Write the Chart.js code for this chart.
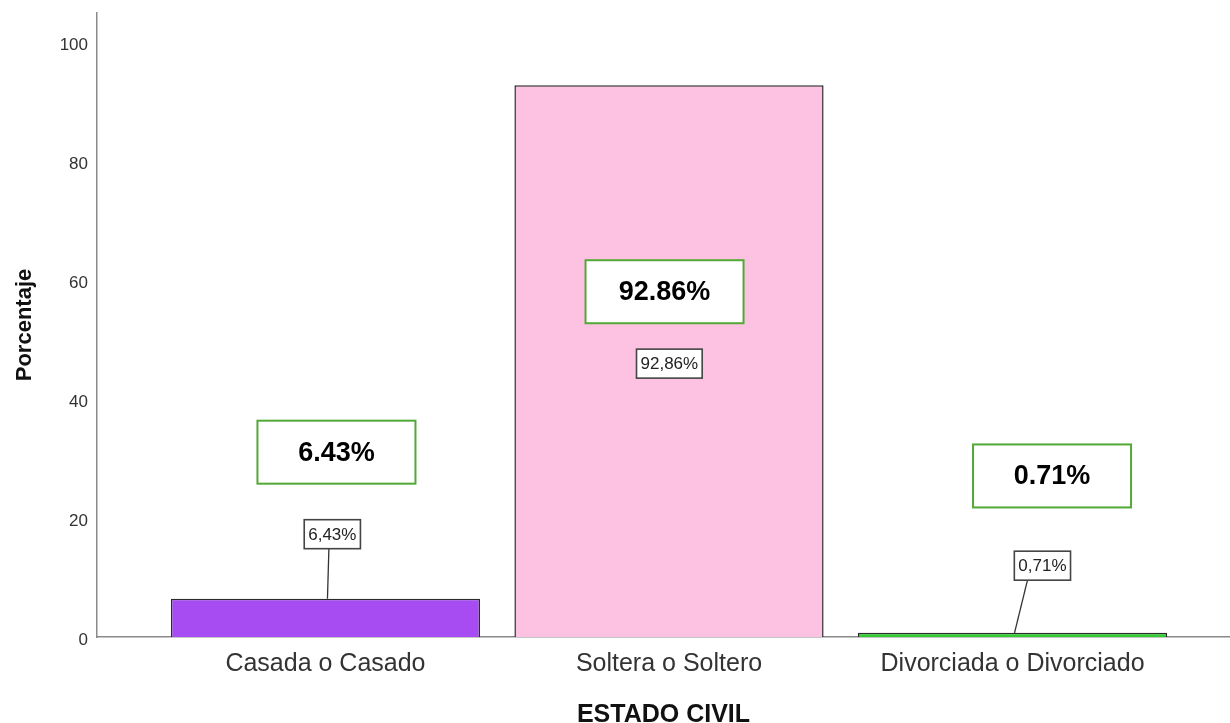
<!DOCTYPE html>
<html lang="es">
<head>
<meta charset="utf-8">
<title>Estado civil</title>
<script src="https://cdn.jsdelivr.net/npm/chart.js@4/dist/chart.umd.min.js"></script>
<style>
  html, body { margin: 0; padding: 0; background: #fff; }
  #wrap { width: 1230px; height: 723px; position: relative; }
</style>
</head>
<body>
<div id="wrap"><canvas id="estado-civil-chart"></canvas></div>
<script>
// Datos: porcentaje por estado civil
const categorias = ['Casada o Casado', 'Soltera o Soltero', 'Divorciada o Divorciado'];
const porcentajes = [6.43, 92.86, 0.71];
const coloresBarra = ['#a74bf2', '#fdc1e1', '#33cc33'];
const ticksY = [0, 20, 40, 60, 80, 100];

// Ubicación de las etiquetas (desplazamiento x en unidades de categoría, y en %)
const cajaGrande = [
    { dx: 0.032, y: 31.1 },
    { dx: -0.013, y: 58.1 },
    { dx: 0.115, y: 27.1 }
];
const cajaChica = [
    { dx: 0.02, y: 17.3, linea: true },
    { dx: 0.001, y: 46.0, linea: false },
    { dx: 0.087, y: 12.0, linea: true }
];

const FUENTE = '"Liberation Sans", Arial, sans-serif';

// Dibuja los recuadros con los porcentajes encima de cada barra
const etiquetasPlugin = {
    id: 'etiquetasPorcentaje',
    afterDatasetsDraw(chart) {
        const { ctx, scales: { x, y } } = chart;
        ctx.save();
        ctx.textAlign = 'center';
        ctx.textBaseline = 'middle';
        porcentajes.forEach((v, i) => {
            const cx = x.getPixelForValue(i);
            const topBar = y.getPixelForValue(v);

            // etiqueta pequeña con coma decimal
            const chica = cajaChica[i];
            const sx = x.getPixelForValue(i + chica.dx);
            const sy = y.getPixelForValue(chica.y);
            const txt = v.toFixed(2).replace('.', ',') + '%';
            ctx.font = '17px ' + FUENTE;
            const w = ctx.measureText(txt).width + 8;
            const h = 29;
            if (chica.linea) {
                ctx.strokeStyle = '#333';
                ctx.lineWidth = 1.3;
                ctx.beginPath();
                ctx.moveTo(cx + 2, topBar);
                ctx.lineTo(sx - (sx - cx) * 0.5, sy + h / 2);
                ctx.stroke();
            }
            ctx.fillStyle = '#fff';
            ctx.fillRect(sx - w / 2, sy - h / 2, w, h);
            ctx.strokeStyle = '#444';
            ctx.lineWidth = 1.6;
            ctx.strokeRect(sx - w / 2, sy - h / 2, w, h);
            ctx.fillStyle = '#222';
            ctx.fillText(txt, sx, sy + 1);

            // recuadro verde con el valor en negrita
            const g = cajaGrande[i];
            const gx = x.getPixelForValue(i + g.dx);
            const gy = y.getPixelForValue(g.y);
            const gw = 158, gh = 63;
            ctx.fillStyle = '#fff';
            ctx.fillRect(gx - gw / 2, gy - gh / 2, gw, gh);
            ctx.strokeStyle = '#52a935';
            ctx.lineWidth = 2;
            ctx.strokeRect(gx - gw / 2, gy - gh / 2, gw, gh);
            ctx.fillStyle = '#000';
            ctx.font = 'bold 27px ' + FUENTE;
            ctx.fillText(v.toFixed(2) + '%', gx, gy + 1);
        });
        ctx.restore();
    }
};

new Chart(document.getElementById('estado-civil-chart'), {
    type: 'bar',
    data: {
        datasets: [{
            data: porcentajes.map((v, i) => ({ x: i, y: v })),
            backgroundColor: coloresBarra,
            borderColor: '#2b2b2b',
            borderWidth: 1.5,
            barPercentage: 0.9,
            categoryPercentage: 1
        }]
    },
    options: {
        responsive: true,
        maintainAspectRatio: false,
        animation: false,
        layout: { padding: { top: 13, right: 0, left: 0, bottom: 0 } },
        plugins: {
            legend: { display: false },
            tooltip: { enabled: false }
        },
        scales: {
            x: {
                type: 'linear',
                offset: false,
                min: -0.665,
                max: 2.633,
                afterBuildTicks: (scale) => {
                    scale.ticks = categorias.map((_, i) => ({ value: i }));
                },
                afterFit: (scale) => { scale.height = 86; },
                ticks: {
                    callback: (val) => categorias[val],
                    color: '#333',
                    font: { family: FUENTE, size: 25 },
                    padding: 12,
                    maxRotation: 0,
                    autoSkip: false
                },
                grid: { display: false, drawTicks: false },
                border: { display: true, color: '#8a8a8a', width: 1.5 },
                title: {
                    display: true,
                    text: 'ESTADO CIVIL',
                    color: '#111',
                    font: { family: FUENTE, size: 25, weight: 'bold' },
                    padding: { top: 0, bottom: -7 }
                }
            },
            y: {
                min: 0,
                max: 105,
                afterBuildTicks: (scale) => {
                    scale.ticks = ticksY.map(v => ({ value: v }));
                },
                afterFit: (scale) => {
                    scale.width = 97;
                    // el eje arranca justo en el borde superior del área
                    scale.paddingTop = 0;
                    scale.paddingBottom = 0;
                },
                ticks: {
                    color: '#333',
                    font: { family: FUENTE, size: 17 },
                    padding: 9,
                    labelOffset: 3
                },
                grid: { display: false, drawTicks: false },
                border: { display: true, color: '#8a8a8a', width: 1.5 },
                title: {
                    display: true,
                    text: 'Porcentaje',
                    color: '#111',
                    font: { family: FUENTE, size: 22, weight: 'bold' },
                    padding: { top: 12, bottom: 0 }
                }
            }
        }
    },
    plugins: [etiquetasPlugin]
});
</script>
</body>
</html>
